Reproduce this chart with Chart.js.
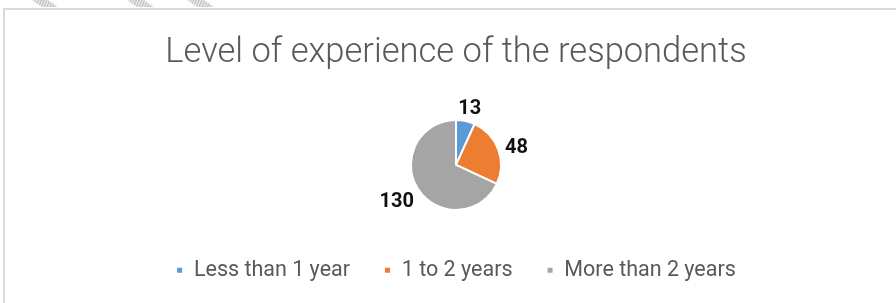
<!DOCTYPE html>
<html>
<head>
<meta charset="utf-8">
<script src="https://cdn.jsdelivr.net/npm/chart.js@4/dist/chart.umd.min.js"></script>
<style>
  html, body { margin: 0; padding: 0; background: #fff; }
  #wrap { position: relative; width: 896px; height: 303px; overflow: hidden; }
  .frame { position: absolute; left: 3px; top: 8px; width: 1000px; height: 400px;
           border-top: 2px solid #d9d9d9; border-left: 2px solid #d9d9d9; }
  .hatch { position: absolute; top: 0; height: 7px; transform: skewX(55deg); transform-origin: 0 0;
           background: repeating-linear-gradient(45deg, #c8c8c8 0 1px, #e6e6e6 1px 2px); }
  canvas { position: absolute; left: 0; top: 0; }
</style>
</head>
<body>
<div id="wrap">
  <div class="hatch" style="left:32px;width:16px"></div>
  <div class="hatch" style="left:127px;width:17px"></div>
  <div class="hatch" style="left:187px;width:17px"></div>
  <div class="frame"></div>
  <canvas id="expChart" width="896" height="303"></canvas>
</div>
<script>
const chartTitle = 'Level of experience of the respondents';
const categories = ['Less than 1 year', '1 to 2 years', 'More than 2 years'];
const respondents = [13, 48, 130];
const sliceColors = ['#5b9bd5', '#ed7d31', '#a5a5a5'];

// etiquetas fuera de cada porción (no hay plugin de datalabels)
const outsideLabels = {
    id: 'outsideLabels',
    afterDatasetsDraw(chart) {
        const ctx = chart.ctx;
        const meta = chart.getDatasetMeta(0);
        ctx.save();
        ctx.font = 'bold 20px Roboto, sans-serif';
        ctx.fillStyle = '#111';
        ctx.textAlign = 'center';
        ctx.textBaseline = 'middle';
        meta.data.forEach((arc, i) => {
            const p = arc.getProps(['x', 'y', 'startAngle', 'endAngle', 'outerRadius'], true);
            const mid = (p.startAngle + p.endAngle) / 2;
            const txt = String(respondents[i]);
            const hw = ctx.measureText(txt).width / 2;
            const hh = 8;
            const r = p.outerRadius + 8;
            const x = p.x + Math.cos(mid) * (r + hw);
            const y = p.y + Math.sin(mid) * (r + hh) + 4;
            ctx.fillText(txt, x, y);
        });
        ctx.restore();
    }
};

new Chart(document.getElementById('expChart'), {
    type: 'pie',
    data: {
        labels: categories,
        datasets: [{
            data: respondents,
            backgroundColor: sliceColors,
            borderColor: '#fff',
            borderWidth: 2,
            radius: 45
        }]
    },
    options: {
        responsive: false,
        animation: false,
        layout: { padding: { left: 16, right: 0, top: 0, bottom: 12 } },
        plugins: {
            title: {
                display: true,
                text: chartTitle,
                color: '#595959',
                font: { family: 'Roboto, sans-serif', size: 34.5, weight: '300' },
                padding: { top: 33, bottom: 30 }
            },
            legend: {
                position: 'bottom',
                labels: {
                    color: '#595959',
                    font: { family: 'Roboto, sans-serif', size: 21.5, weight: '400' },
                    boxWidth: 7,
                    boxHeight: 7,
                    padding: 34
                }
            },
            tooltip: { enabled: false }
        }
    },
    plugins: [outsideLabels]
});
</script>
</body>
</html>
